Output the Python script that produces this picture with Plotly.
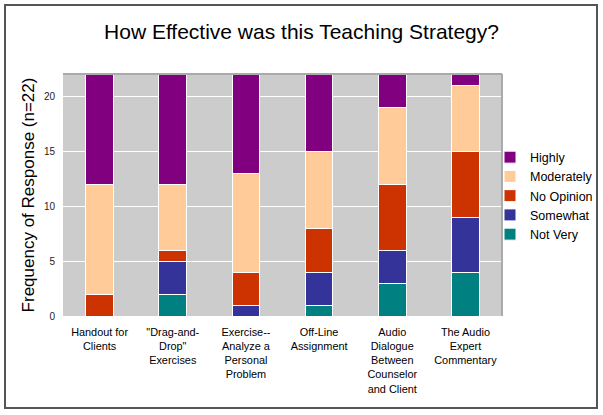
import plotly.graph_objects as go

categories = [
    "Handout for<br>Clients",
    "\"Drag-and-<br>Drop\"<br>Exercises",
    "Exercise--<br>Analyze a<br>Personal<br>Problem",
    "Off-Line<br>Assignment",
    "Audio<br>Dialogue<br>Between<br>Counselor<br>and Client",
    "The Audio<br>Expert<br>Commentary",
]
not_very = [0, 2, 0, 1, 3, 4]
somewhat = [0, 3, 1, 3, 3, 5]
no_opinion = [2, 1, 3, 4, 6, 6]
moderately = [10, 6, 9, 7, 7, 6]
highly = [10, 10, 9, 7, 3, 1]
y_ticks = [0, 5, 10, 15, 20]

series = [
    ("Not Very", not_very, "#008080"),
    ("Somewhat", somewhat, "#333399"),
    ("No Opinion", no_opinion, "#cc3300"),
    ("Moderately", moderately, "#ffcc99"),
    ("Highly", highly, "#800080"),
]

fig = go.Figure()
for name, vals, color in series:
    fig.add_trace(go.Bar(
        x=categories, y=vals, name=name,
        marker=dict(color=color, line=dict(color="white", width=1)),
    ))

W, H = 603, 415
L, R, T, B = 63, 502, 74, 316
pw, ph = R - L, B - T

def px(x):
    return (x - L) / pw

def py(y):
    return (B - y) / ph

fig.update_layout(
    width=W, height=H,
    margin=dict(l=L, r=W - R, t=T, b=H - B, pad=0, autoexpand=False),
    barmode="stack",
    bargap=0.62,
    plot_bgcolor="#cccccc",
    paper_bgcolor="white",
    font=dict(family="Arial, Liberation Sans, sans-serif", color="#000000"),
    title=dict(text="How Effective was this Teaching Strategy?",
               x=0.5, xanchor="center", y=1 - 32 / H, yanchor="middle",
               font=dict(size=21, color="#000000")),
    xaxis=dict(showgrid=False, tickfont=dict(size=10.9), ticks="", zeroline=False,
               showline=False, automargin=False, ticklabelstandoff=8),
    yaxis=dict(range=[0, 22], tickvals=y_ticks, showgrid=True, gridcolor="white",
               gridwidth=1, zeroline=False, showline=False, ticks="",
               tickfont=dict(size=10, color="#222222"), automargin=False,
               ticklabelstandoff=7,
               title=dict(text="Frequency of Response (n=22)", font=dict(size=17),
                          standoff=4)),
    legend=dict(x=px(490), xanchor="left", y=py(196), yanchor="middle",
                traceorder="reversed", font=dict(size=12.5),
                itemwidth=30, tracegroupgap=0, bgcolor="rgba(0,0,0,0)"),
    showlegend=True,
    shapes=[
        dict(type="line", xref="paper", yref="paper", x0=0, x1=1, y0=1, y1=1,
             line=dict(color="#aaaaaa", width=2), layer="above"),
        dict(type="line", xref="paper", yref="paper", x0=1, x1=1, y0=0, y1=1,
             line=dict(color="#aaaaaa", width=2), layer="above"),
        dict(type="rect", xref="paper", yref="paper",
             x0=px(5), x1=px(597), y0=py(408), y1=py(5),
             line=dict(color="#555555", width=2), fillcolor="rgba(0,0,0,0)"),
    ],
)

fig.write_html("out.html", config={"displayModeBar": False},
               post_script="document.body.style.margin='0';document.body.style.overflow='hidden';")
